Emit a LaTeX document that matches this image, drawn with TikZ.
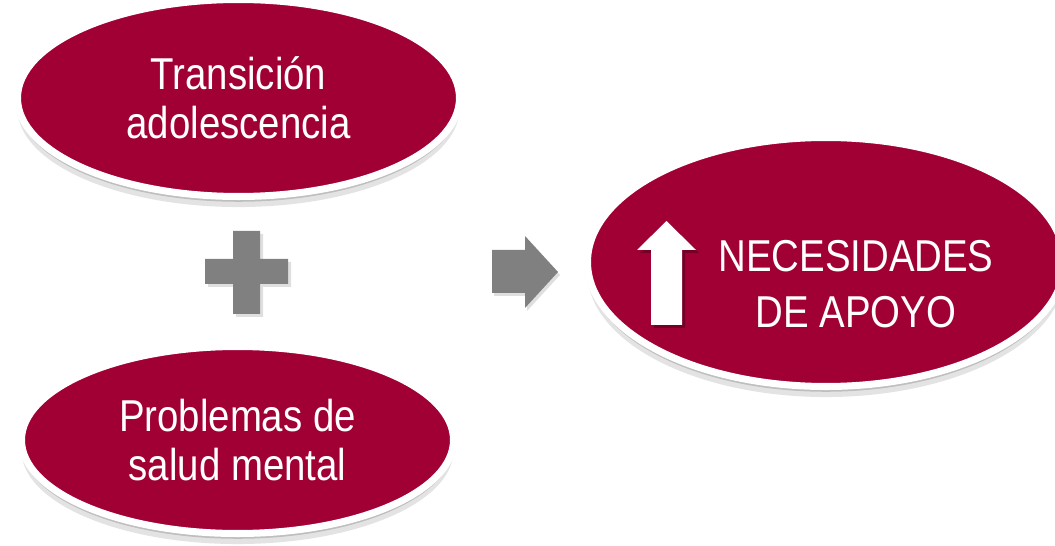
\documentclass[tikz,border=0pt]{standalone}
\usepackage{fontspec}
\setmainfont{Liberation Sans}
\newfontfamily\narrowsans[FakeStretch=0.86]{Liberation Sans}
\usetikzlibrary{shapes.geometric,shadows,calc}

\definecolor{granate}{RGB}{161,0,53}
\definecolor{gris}{RGB}{128,128,128}
\newcommand{\rotulo}{\narrowsans\fontsize{25.4}{28}\selectfont}

\tikzset{
  burbuja/.style={ellipse, fill=granate, draw=white, line width=4pt, inner sep=0pt,
    text=white, align=center, font=\rotulo,
    drop shadow={shadow xshift=0pt, shadow yshift=-1pt, shadow scale=1.012, opacity=.2, fill=black!50},
    drop shadow={shadow xshift=0pt, shadow yshift=-3pt, opacity=.3, fill=black!60},
    drop shadow={shadow xshift=0pt, shadow yshift=-6pt, opacity=.18, fill=black!60}},
  operador/.style={fill=gris, draw=none},
  sombraop/.style={fill=black!25, opacity=.5, draw=none}
}

\begin{document}
\begin{tikzpicture}
\useasboundingbox (0,0) rectangle (21.1,-10.92);
\node (trans) at (4.77,-1.96) [burbuja, minimum width=8.84cm, minimum height=3.94cm] {Transición\\adolescencia};
\node (salud) at (4.75,-8.80) [burbuja, minimum width=8.64cm, minimum height=3.74cm] {Problemas de\\salud mental};
\node (apoyo) at (16.52,-5.24) [burbuja, minimum width=9.54cm, minimum height=4.98cm] {};
\node (necesidades) at (17.12,-5.68) [text=white, align=center, font=\narrowsans\fontsize{25.4}{31.5}\selectfont] {NECESIDADES\\DE APOYO};

\fill[sombraop] (4.16,-5.24) -- (4.72,-5.24) -- (4.72,-4.68) -- (5.26,-4.68) -- (5.26,-5.24)
  -- (5.82,-5.24) -- (5.82,-5.74) -- (5.26,-5.74) -- (5.26,-6.34) -- (4.72,-6.34)
  -- (4.72,-5.74) -- (4.16,-5.74) -- cycle;
\fill[operador] (4.10,-5.18) -- (4.66,-5.18) -- (4.66,-4.62) -- (5.20,-4.62) -- (5.20,-5.18)
  -- (5.76,-5.18) -- (5.76,-5.68) -- (5.20,-5.68) -- (5.20,-6.28) -- (4.66,-6.28)
  -- (4.66,-5.68) -- (4.10,-5.68) -- cycle;

\fill[sombraop] (9.88,-5.06) -- (10.54,-5.06) -- (10.54,-4.78) -- (11.20,-5.50)
  -- (10.54,-6.22) -- (10.54,-5.92) -- (9.88,-5.92) -- cycle;
\fill[operador] (9.84,-5.00) -- (10.50,-5.00) -- (10.50,-4.72) -- (11.16,-5.44)
  -- (10.50,-6.16) -- (10.50,-5.86) -- (9.84,-5.86) -- cycle;

\fill[granate!60!black, opacity=.7] (13.08,-6.56) -- (13.08,-5.06) -- (12.80,-5.06) -- (13.39,-4.48)
  -- (13.98,-5.06) -- (13.70,-5.06) -- (13.70,-6.56) -- cycle;
\fill[white] (13.02,-6.50) -- (13.02,-5.00) -- (12.74,-5.00) -- (13.33,-4.42)
  -- (13.92,-5.00) -- (13.64,-5.00) -- (13.64,-6.50) -- cycle;
\end{tikzpicture}
\end{document}
